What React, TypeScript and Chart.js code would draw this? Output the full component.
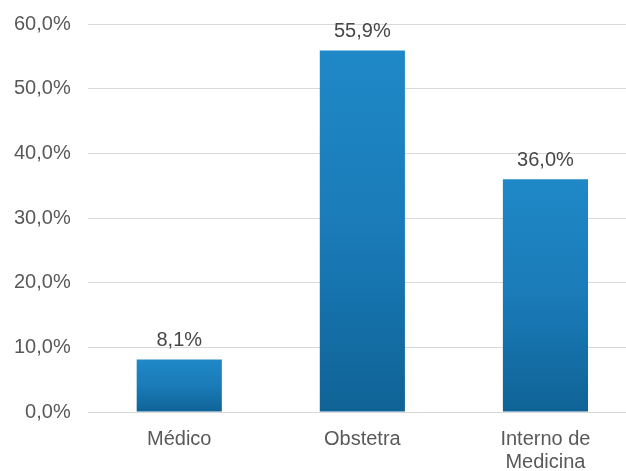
import React, { useEffect, useRef } from "react";
import { Chart, registerables } from "chart.js";

Chart.register(...registerables);

const categories: (string | string[])[] = ["Médico", "Obstetra", ["Interno de", "Medicina"]];
const values: number[] = [8.1, 55.9, 36.0];
const valueLabels: string[] = ["8,1%", "55,9%", "36,0%"];
const yMax = 60;
const yStep = 10;

const FONT = "'Liberation Sans', Arial, sans-serif";

const dataLabelPlugin = {
  id: "dataLabels",
  afterDatasetsDraw(chart: any) {
    const { ctx } = chart;
    const meta = chart.getDatasetMeta(0);
    ctx.save();
    ctx.font = `20px ${FONT}`;
    ctx.fillStyle = "#474747";
    ctx.textAlign = "center";
    ctx.textBaseline = "middle";
    meta.data.forEach((el: any, i: number) => {
      ctx.fillText(valueLabels[i], el.x, el.y - 19);
    });
    ctx.restore();
  },
};

export default function App() {
  const ref = useRef<HTMLCanvasElement>(null);
  useEffect(() => {
    if (!ref.current) return;
    const chart = new Chart(ref.current, {
      type: "bar",
      data: {
        labels: categories,
        datasets: [
          {
            data: values,
            backgroundColor: (c: any) => {
              const chart = c.chart;
              const ys = chart.scales?.y;
              if (!ys || !chart.chartArea || c.dataIndex === undefined) return "#1a7fbd";
              const top = ys.getPixelForValue(values[c.dataIndex]);
              const bottom = ys.getPixelForValue(0);
              const g = chart.ctx.createLinearGradient(0, top, 0, bottom);
              g.addColorStop(0, "#1f88c7");
              g.addColorStop(0.5, "#1a7bb8");
              g.addColorStop(1, "#0f6396");
              return g;
            },
            borderWidth: 0,
            barPercentage: 0.465,
            categoryPercentage: 1,
          },
        ],
      },
      options: {
        animation: false,
        responsive: false,
        maintainAspectRatio: false,
        layout: { padding: { top: 7, right: 4, left: 10, bottom: 0 } },
        plugins: { legend: { display: false }, tooltip: { enabled: false } },
        scales: {
          x: {
            grid: { display: false },
            border: { display: false },
            ticks: {
              color: "#595959",
              font: { family: FONT, size: 20, lineHeight: 1.15 },
              padding: 8,
            },
          },
          y: {
            min: 0,
            max: yMax,
            border: { display: false },
            grid: { color: "#d9d9d9", drawTicks: false, lineWidth: 1 },
            ticks: {
              stepSize: yStep,
              color: "#595959",
              font: { family: FONT, size: 20 },
              padding: 17,
              callback: (v: any) => `${Number(v).toFixed(1).replace(".", ",")}%`,
            },
          },
        },
      },
      plugins: [dataLabelPlugin],
    });
    return () => chart.destroy();
  }, []);
  return (
    <div style={{ position: "fixed", left: 0, top: 0, width: 626, height: 471, overflow: "hidden", background: "#fff" }}>
      <canvas ref={ref} width={654} height={487} style={{ display: "block", marginLeft: -13, marginTop: -5 }} />
    </div>
  );
}
